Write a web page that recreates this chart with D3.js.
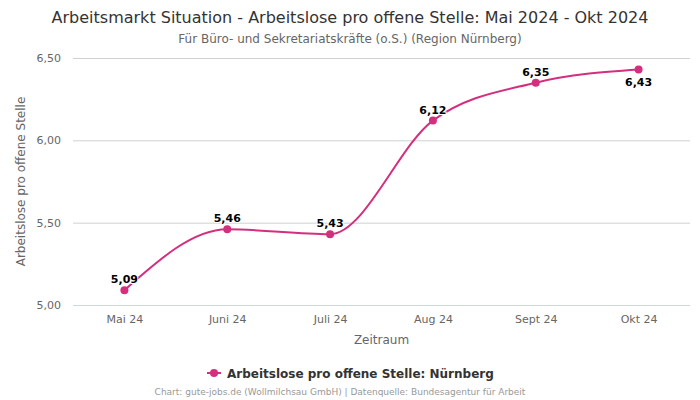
<!DOCTYPE html>
<html><head><meta charset="utf-8">
<script src="https://cdn.jsdelivr.net/npm/d3@7"></script>
<style>body{margin:0;background:#fff}svg{display:block;font-family:"DejaVu Sans",sans-serif}</style>
</head><body>
<svg id="c" width="700" height="400"></svg>
<script>
const categories = ["Mai 24","Juni 24","Juli 24","Aug 24","Sept 24","Okt 24"];
const values = [5.09, 5.46, 5.43, 6.12, 6.35, 6.43];
const yTicks = [5.0, 5.5, 6.0, 6.5];
const seriesName = "Arbeitslose pro offene Stelle: Nürnberg";
const color = "#d42f7e";

const svg = d3.select("#c");
const L = 73, R = 690, T = 58, B = 305;
const x = d3.scalePoint().domain(categories).range([L, R]).padding(0.5);
const y = d3.scaleLinear().domain([5.0, 6.5]).range([B, T]);
const fmt = v => d3.format(".2f")(v).replace(".", ",");

svg.append("text").attr("x",350).attr("y",22.5).attr("text-anchor","middle")
  .attr("font-size",16).attr("fill","#333").text("Arbeitsmarkt Situation - Arbeitslose pro offene Stelle: Mai 2024 - Okt 2024");
svg.append("text").attr("x",350).attr("y",43).attr("text-anchor","middle")
  .attr("font-size",12).attr("fill","#666").text("Für Büro- und Sekretariatskräfte (o.S.) (Region Nürnberg)");

// grid
svg.append("g").selectAll("line").data(yTicks).join("line")
  .attr("x1",L).attr("x2",R).attr("y1",d=>y(d)+0.5).attr("y2",d=>y(d)+0.5)
  .attr("stroke", d=> d===5.0 ? "#ccd6eb" : "#d0d0d0").attr("stroke-width",1);

const yAxis = d3.axisLeft(y).tickValues(yTicks).tickFormat(fmt).tickSize(0).tickPadding(12);
const gy = svg.append("g").attr("transform",`translate(${L},0)`).call(yAxis);
gy.select(".domain").remove();
gy.selectAll("text").attr("font-size",11).attr("fill","#666").attr("font-family","DejaVu Sans");

const xAxis = d3.axisBottom(x).tickSize(0).tickPadding(10);
const gx = svg.append("g").attr("transform",`translate(0,${B})`).call(xAxis);
gx.select(".domain").remove();
gx.selectAll("text").attr("font-size",11).attr("fill","#666").attr("font-family","DejaVu Sans");

svg.append("text").attr("x",(L+R)/2).attr("y",344).attr("text-anchor","middle")
  .attr("font-size",12).attr("fill","#666").text("Zeitraum");
svg.append("text").attr("transform",`translate(25,${(T+B)/2}) rotate(-90)`).attr("text-anchor","middle")
  .attr("font-size",12).attr("fill","#666").text("Arbeitslose pro offene Stelle");

const line = d3.line().x((d,i)=>x(categories[i])).y(d=>y(d)).curve(d3.curveMonotoneX);
svg.append("path").datum(values).attr("d",line).attr("fill","none").attr("stroke",color).attr("stroke-width",2);
svg.append("g").selectAll("circle").data(values).join("circle")
  .attr("cx",(d,i)=>x(categories[i])).attr("cy",d=>y(d)).attr("r",4).attr("fill",color);
svg.append("g").selectAll("text").data(values).join("text")
  .attr("x",(d,i)=>x(categories[i])).attr("y",(d,i)=> i===values.length-1 ? y(d)+16 : y(d)-7)
  .attr("text-anchor","middle").attr("font-size",11).attr("font-weight","bold").attr("fill","#000")
  .attr("stroke","#fff").attr("stroke-width",2).attr("paint-order","stroke")
  .text(fmt);

// legend
const lg = svg.append("g");
lg.append("line").attr("x1",207).attr("x2",221).attr("y1",373).attr("y2",373).attr("stroke",color).attr("stroke-width",2);
lg.append("circle").attr("cx",214).attr("cy",373).attr("r",4).attr("fill",color);
lg.append("text").attr("x",227).attr("y",377.5).attr("font-size",12).attr("font-weight","bold").attr("fill","#333").text(seriesName);

svg.append("text").attr("x",340).attr("y",395).attr("text-anchor","middle")
  .attr("font-size",9).attr("fill","#999").text("Chart: gute-jobs.de (Wollmilchsau GmbH) | Datenquelle: Bundesagentur für Arbeit");
</script>
</body></html>
